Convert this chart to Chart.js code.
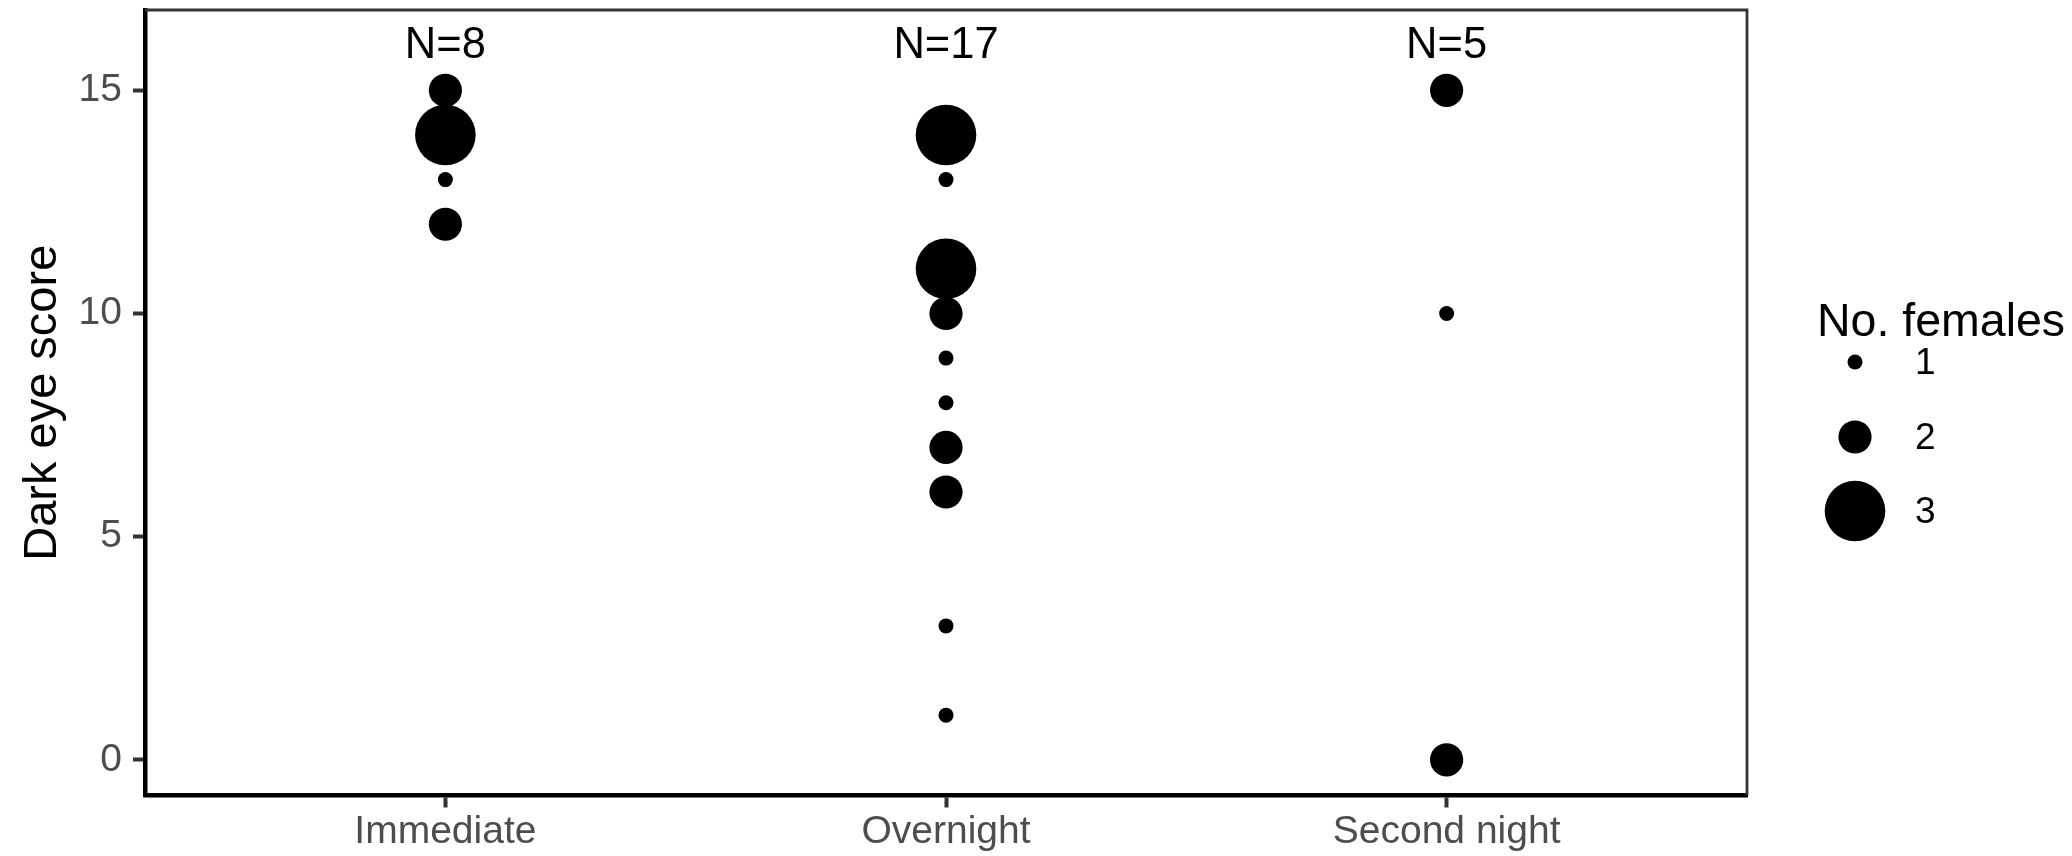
<!DOCTYPE html>
<html>
<head>
<meta charset="utf-8">
<script src="https://cdn.jsdelivr.net/npm/chart.js@4.4.1/dist/chart.umd.min.js"></script>
<style>
  html, body { margin: 0; padding: 0; background: #fff; }
  #wrap { width: 2072px; height: 856px; }
</style>
</head>
<body>
<div id="wrap"><canvas id="chart" width="2072" height="856"></canvas></div>
<script>
// groups on the x axis
const groups = ['Immediate', 'Overnight', 'Second night'];

// dark eye score and number of females at that score, per group
const immediateScores = [15, 14, 13, 12];
const immediateCounts = [2, 3, 1, 2];
const overnightScores = [14, 13, 11, 10, 9, 8, 7, 6, 3, 1];
const overnightCounts = [3, 1, 3, 2, 1, 1, 2, 2, 1, 1];
const secondNightScores = [15, 10, 0];
const secondNightCounts = [2, 1, 2];

const yTicks = [0, 5, 10, 15];
const legendCounts = [1, 2, 3];
const labelScore = 16; // where the N= labels sit

// dot radius (px) for a count
const radiusFor = {1: 7.5, 2: 16.6, 3: 30.3};
const FONT = '"Liberation Sans", Arial, Helvetica, sans-serif';

const scoresByGroup = [immediateScores, overnightScores, secondNightScores];
const countsByGroup = [immediateCounts, overnightCounts, secondNightCounts];

const points = [];
scoresByGroup.forEach((scores, g) => {
  scores.forEach((s, i) => {
    points.push({ x: g + 1, y: s, r: radiusFor[countsByGroup[g][i]] });
  });
});

const total = arr => arr.reduce((a, b) => a + b, 0);

// top/right panel border
const frame = {
  id: 'frame',
  afterDraw(chart) {
    const { ctx, chartArea: a } = chart;
    ctx.save();
    ctx.strokeStyle = '#333333';
    ctx.lineWidth = 2.8;
    ctx.beginPath();
    ctx.moveTo(a.left, a.top);
    ctx.lineTo(a.right, a.top);
    ctx.lineTo(a.right, a.bottom);
    ctx.stroke();
    ctx.restore();
  }
};

// "N=.." above each group
const nLabels = {
  id: 'nLabels',
  afterDatasetsDraw(chart) {
    const { ctx, scales } = chart;
    ctx.save();
    ctx.font = '43.5px ' + FONT;
    ctx.fillStyle = '#000';
    ctx.textAlign = 'center';
    ctx.textBaseline = 'middle';
    const y = scales.y.getPixelForValue(labelScore);
    groups.forEach((g, i) => {
      ctx.fillText('N=' + total(countsByGroup[i]), scales.x.getPixelForValue(i + 1), y);
    });
    ctx.restore();
  }
};

// size legend on the right
const sizeLegend = {
  id: 'sizeLegend',
  afterDraw(chart) {
    const { ctx } = chart;
    ctx.save();
    ctx.fillStyle = '#000';
    ctx.font = '46.5px ' + FONT;
    ctx.textAlign = 'left';
    ctx.textBaseline = 'alphabetic';
    ctx.fillText('No. females', 1817, 336);
    const keyX = 1855;
    const keyY = [362, 437, 511];
    ctx.font = '37px ' + FONT;
    ctx.textBaseline = 'middle';
    legendCounts.forEach((c, i) => {
      ctx.beginPath();
      ctx.arc(keyX, keyY[i], radiusFor[c], 0, Math.PI * 2);
      ctx.fill();
      ctx.fillText(String(c), 1915, keyY[i] + 2);
    });
    ctx.restore();
  }
};

new Chart(document.getElementById('chart').getContext('2d'), {
  type: 'bubble',
  data: {
    datasets: [{
      data: points,
      backgroundColor: '#000000',
      borderWidth: 0,
      hoverRadius: 0,
      hoverBorderWidth: 0
    }]
  },
  options: {
    responsive: false,
    animation: false,
    devicePixelRatio: 1,
    events: [],
    layout: { autoPadding: false, padding: { top: 10, right: 325, left: 0, bottom: 0 } },
    plugins: { legend: { display: false }, tooltip: { enabled: false } },
    scales: {
      x: {
        type: 'linear',
        min: 0.4,
        max: 3.6,
        afterBuildTicks: s => { s.ticks = groups.map((g, i) => ({ value: i + 1 })); },
        afterFit: s => {
          s.height = 60.5;
          s.paddingLeft = 0; s.paddingRight = 0;
        },
        ticks: {
          callback: v => groups[v - 1],
          font: { family: FONT, size: 39 },
          color: '#4d4d4d',
          padding: 1,
          autoSkip: false,
          maxRotation: 0
        },
        grid: { drawOnChartArea: false, drawTicks: true, tickLength: 12, tickWidth: 4, tickColor: '#333333' },
        border: { color: '#000000', width: 4.5 }
      },
      y: {
        type: 'linear',
        min: -0.8,
        max: 16.8,
        afterBuildTicks: s => { s.ticks = yTicks.map(v => ({ value: v })); },
        afterFit: s => {
          s.width = 145;
          s.paddingTop = 0; s.paddingBottom = 0;
        },
        ticks: {
          font: { family: FONT, size: 39 },
          color: '#4d4d4d',
          padding: 11
        },
        title: {
          display: true,
          text: 'Dark eye score',
          font: { family: FONT, size: 47 },
          color: '#000000',
          padding: { top: 15, bottom: 0 }
        },
        grid: { drawOnChartArea: false, drawTicks: true, tickLength: 12, tickWidth: 4, tickColor: '#333333' },
        border: { color: '#000000', width: 4.5 }
      }
    }
  },
  plugins: [frame, nLabels, sizeLegend]
});
</script>
</body>
</html>
